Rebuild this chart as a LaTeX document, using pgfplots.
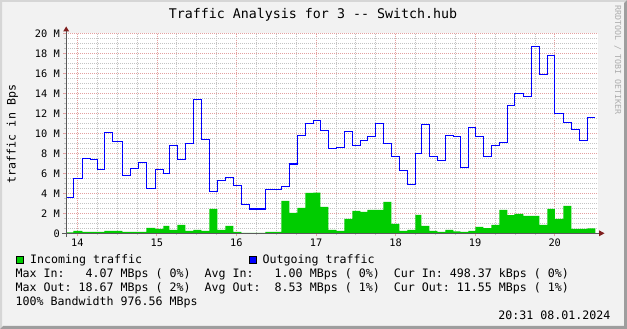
\documentclass[border=0pt]{standalone}
\usepackage{pgfplots}
\pgfplotsset{compat=1.18}
\usepackage{pgfplotstable}
\usepackage{fontspec}
\setmonofont{DejaVu Sans Mono}
\renewcommand{\familydefault}{\ttdefault}

\definecolor{bg}{HTML}{F2F2F2}
\definecolor{shadea}{HTML}{D6D6D6}
\definecolor{shadeb}{HTML}{9E9E9E}
\definecolor{mgrid}{HTML}{E4A0A0}
\definecolor{gridc}{HTML}{C4C4C4}
\definecolor{arrowc}{HTML}{801F1F}
\definecolor{axisc}{HTML}{5A5A5A}
\definecolor{ingreen}{HTML}{00CC00}
\definecolor{outblue}{HTML}{0000FF}
\definecolor{wm}{HTML}{ADADAD}

\pgfplotstableread{
x      in    out
13.867 0.10  3.6
13.950 0.23  5.5
14.063 0.13  7.5
14.163 0.13  7.4
14.251 0.13  6.4
14.339 0.23  10.1
14.440 0.23  9.2
14.566 0.13  5.8
14.666 0.13  6.5
14.767 0.13  7.1
14.867 0.53  4.5
14.980 0.45  6.4
15.081 0.73  6.0
15.156 0.33  8.8
15.257 0.83  7.4
15.357 0.23  9.0
15.458 0.33  13.4
15.558 0.23  9.4
15.659 2.43  4.2
15.759 0.35  5.3
15.860 0.73  5.6
15.961 0.13  4.8
16.061 0.03  2.9
16.162 0.03  2.43
16.262 0.03  2.43
16.363 0.13  4.4
16.463 0.13  4.4
16.564 3.23  4.7
16.664 2.03  6.93
16.765 2.53  9.8
16.865 4.03  11.0
16.966 4.07  11.3
17.054 2.63  10.3
17.154 0.35  8.5
17.255 0.25  8.6
17.356 1.45  10.2
17.456 2.23  8.8
17.557 2.13  9.3
17.645 2.33  9.7
17.745 2.33  11.0
17.846 3.13  9.0
17.946 0.95  7.7
18.047 0.23  6.3
18.147 0.35  4.9
18.248 1.83  8.0
18.323 0.73  10.9
18.424 0.23  7.7
18.524 0.13  7.3
18.625 0.33  9.8
18.725 0.20  9.7
18.813 0.13  6.6
18.914 0.23  10.6
19.002 0.63  9.7
19.102 0.52  7.7
19.203 0.83  8.8
19.304 2.35  9.1
19.404 1.82  12.8
19.492 1.93  14.0
19.605 1.73  13.7
19.706 1.73  18.67
19.806 0.83  15.9
19.907 2.43  17.8
20.002 1.43  12.0
20.108 2.73  11.1
20.208 0.45  10.4
20.309 0.45  9.3
20.410 0.50  11.55
20.510 0.50  11.55
}\traffic

\begin{document}
\begin{tikzpicture}
\path[use as bounding box] (0,0) rectangle (627bp,329bp);
\fill[bg] (0,0) rectangle (627bp,329bp);
\fill[shadea] (0,0) -- (0,329bp) -- (627bp,329bp) -- (625bp,327bp) -- (2bp,327bp) -- (2bp,2bp) -- cycle;
\fill[shadeb] (0,0) -- (627bp,0) -- (627bp,329bp) -- (624bp,326bp) -- (624bp,3bp) -- (3bp,3bp) -- cycle;

\begin{axis}[
  at={(66bp,95.7bp)}, anchor=south west,
  scale only axis, width=532bp, height=200bp,
  xmin=13.858, xmax=20.544, ymin=0, ymax=20,
  axis line style={draw=none},
  axis background/.style={fill=white},
  xtick={14,15,16,17,18,19,20},
  xticklabels={14,15,16,17,18,19,20},
  ytick={0,2,4,6,8,10,12,14,16,18,20},
  yticklabels={0,2 M,4 M,6 M,8 M,10 M,12 M,14 M,16 M,18 M,20 M},
  minor x tick num=3, minor y tick num=3,
  grid=both,
  major grid style={mgrid, dash pattern=on 1bp off 1bp, line width=0.7bp},
  minor grid style={gridc, dash pattern=on 1bp off 1bp, line width=0.6bp},
  tick align=outside, xtick pos=left, ytick pos=left,
  major tick length=3bp, minor tick length=2bp,
  major tick style={mgrid, line width=0.8bp},
  minor tick style={gridc, line width=0.6bp},
  ticklabel style={font=\ttfamily\fontsize{10.3bp}{12bp}\selectfont, inner sep=0pt},
  yticklabel style={xshift=-3bp},
  xticklabel style={yshift=-2bp},
  /pgf/number format/assume math mode=true,
]
\addplot[const plot, fill=ingreen, draw=none] table[x=x,y=in]{\traffic} \closedcycle;
\addplot[const plot, draw=outblue, line width=1.2bp] table[x=x,y=out]{\traffic};
\end{axis}

% axes with arrows
\draw[axisc, line width=1bp] (62bp,95.7bp) -- (599bp,95.7bp);
\draw[axisc, line width=1bp] (66.2bp,92bp) -- (66.2bp,298bp);
\fill[arrowc] (604.5bp,95.7bp) -- (599bp,98.7bp) -- (599bp,92.7bp) -- cycle;
\fill[arrowc] (66.2bp,302.5bp) -- (63.2bp,297.5bp) -- (69.2bp,297.5bp) -- cycle;

% title
\node[anchor=base, inner sep=0pt, font=\ttfamily\fontsize{13.3bp}{16bp}\selectfont] at (313bp,310.7bp) {Traffic Analysis for 3 -- Switch.hub};
% y label
\node[rotate=90, anchor=base, inner sep=0pt, font=\ttfamily\fontsize{11.63bp}{14bp}\selectfont] at (15.5bp,195bp) {traffic in Bps};
% watermark
\node[rotate=-90, anchor=base, inner sep=0pt, text=wm, font=\ttfamily\fontsize{8.3bp}{10bp}\selectfont] at (615bp,269bp) {RRDTOOL / TOBI OETIKER};

% legend
\filldraw[fill=ingreen, draw=black, line width=0.8bp] (16.5bp,66bp) rectangle (23.5bp,73bp);
\filldraw[fill=outblue, draw=black, line width=0.8bp] (249.5bp,66bp) rectangle (256.5bp,73bp);
\begin{scope}[every node/.style={anchor=base west, inner sep=0pt, font=\ttfamily\fontsize{11.63bp}{14bp}\selectfont}]
\node at (30bp,65.5bp) {Incoming traffic};
\node at (262.5bp,65.5bp) {Outgoing traffic};
\node at (15.5bp,51.5bp) {Max In:~~~4.07 MBps (~0\%)~~Avg In:~~~1.00 MBps (~0\%)~~Cur In:~498.37 kBps (~0\%)};
\node at (15.5bp,37.5bp) {Max Out:~18.67 MBps (~2\%)~~Avg Out:~~8.53 MBps (~1\%)~~Cur Out:~11.55 MBps (~1\%)};
\node at (15.5bp,23.5bp) {100\% Bandwidth 976.56 MBps};
\node[anchor=base east] at (610.5bp,9.5bp) {20:31 08.01.2024};
\end{scope}
\end{tikzpicture}
\end{document}
